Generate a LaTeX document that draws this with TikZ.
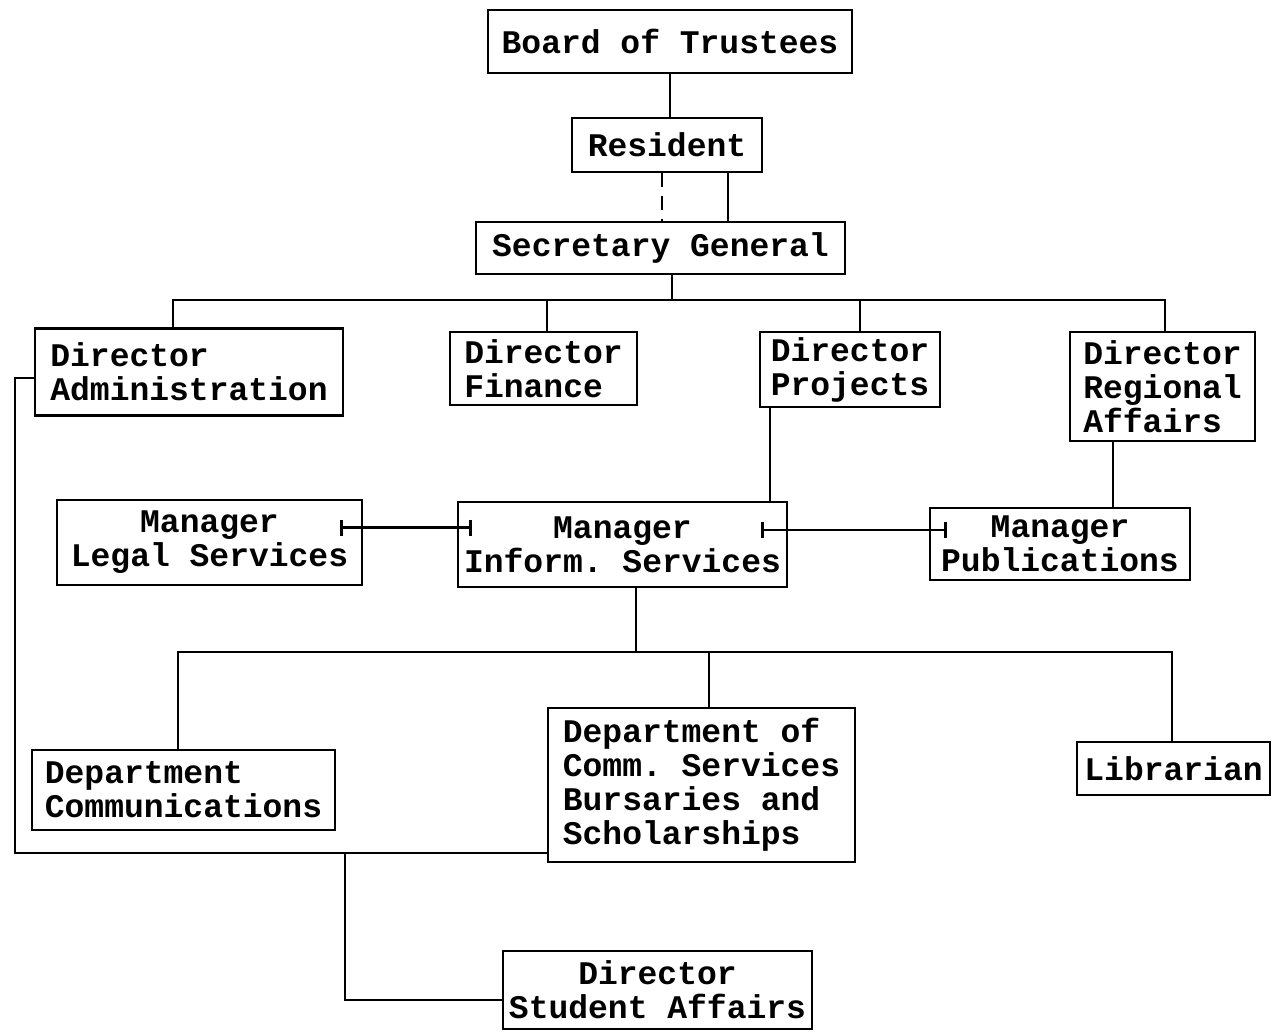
\documentclass[tikz,border=0pt]{standalone}
\usepackage{fontspec}
\setmonofont{Liberation Mono}
\usetikzlibrary{arrows.meta}

\begin{document}
\begin{tikzpicture}
    [
      x=1pt, y=-1pt,
      line width=2.8pt,
      box/.style={draw, inner sep=0pt, align=left,
        font=\ttfamily\bfseries\fontsize{33}{34}\selectfont},
      mid/.style={box, align=center},
      link/.style={{Bar[width=16pt]}-{Bar[width=16pt]}}
    ]
    \useasboundingbox (0,0) rectangle (1276,1033);
    \node [mid, minimum width=364pt, minimum height=63pt] (board) at (670,41.5) {Board of Trustees};
    \node [mid, minimum width=190pt, minimum height=54pt] (resident) at (667,145) {Resident};
    \node [mid, minimum width=369pt, minimum height=52pt] (secgen) at (660.5,248) {Secretary General};
    % directors
    \node [box, minimum width=308pt, minimum height=87pt] (diradmin) at (189,372) {Director\\Administration};
    \node [box, minimum width=187pt, minimum height=73pt] (dirfin) at (543.5,368.5) {Director\\Finance};
    \node [box, minimum width=180pt, minimum height=75pt] (dirproj) at (850,369.5) {Director\\Projects};
    \node [box, minimum width=185pt, minimum height=109pt] (dirreg) at (1162.5,386.5) {Director\\Regional\\Affairs};
    % managers
    \node [mid, minimum width=305pt, minimum height=85pt] (mlegal) at (209.5,542.5) {Manager\\Legal Services};
    \node [mid, minimum width=329pt, minimum height=85pt] (minform) at (622.5,544.5) {Manager\\Inform. Services};
    \node [mid, minimum width=260pt, minimum height=72pt] (mpub) at (1060,544) {Manager\\Publications};
    % departments
    \node [box, minimum width=303pt, minimum height=80pt] (dcomm) at (183.5,790) {Department\\Communications};
    \node [box, minimum width=307pt, minimum height=154pt] (dcommserv) at (701.5,785) {Department of\\Comm. Services\\Bursaries and\\Scholarships};
    \node [box, minimum width=193pt, minimum height=53pt] (librarian) at (1173.5,768.5) {Librarian};
    \node [mid, minimum width=309pt, minimum height=78pt] (dirstudent) at (657.5,990) {Director\\Student Affairs};

    \draw (board.south) -- (board.south |- resident.north);
    \draw [dash pattern=on 14pt off 9pt] ([xshift=-5pt]resident.south) -- ([xshift=-5pt]resident.south |- secgen.north);
    \draw ([xshift=61pt]resident.south) -- ([xshift=61pt]resident.south |- secgen.north);

    \coordinate (bus1) at (672,300);
    \draw ([xshift=11.5pt]secgen.south) -- (bus1);
    \draw ([xshift=-16pt]diradmin.north) |- (bus1) -| ([xshift=2.5pt]dirreg.north);
    \draw ([xshift=3.5pt]dirfin.north) -- ([xshift=3.5pt]dirfin.north |- bus1);
    \draw ([xshift=10pt]dirproj.north) -- ([xshift=10pt]dirproj.north |- bus1);

    \draw ([xshift=-80pt]dirproj.south) -- ([xshift=-80pt]dirproj.south |- minform.north);
    \draw ([xshift=-49.5pt]dirreg.south) -- ([xshift=-49.5pt]dirreg.south |- mpub.north);
    \draw [link] ([xshift=-23pt,yshift=15pt]mlegal.east) -- ([xshift=15pt,yshift=17pt]minform.west);
    \draw [link] ([xshift=-27pt,yshift=14.5pt]minform.east) -- ([xshift=18pt,yshift=14pt]mpub.west);

    \coordinate (bus2) at (636,652);
    \draw ([xshift=13.5pt]minform.south) -- (bus2);
    \draw ([xshift=-5.5pt]dcomm.north) |- (bus2) -| ([xshift=-1.5pt]librarian.north);
    \draw ([xshift=7.5pt]dcommserv.north) -- ([xshift=7.5pt]dcommserv.north |- bus2);

    \coordinate (loopturn) at (15,853);
    \coordinate (sabranch) at (345,853);
    \draw ([yshift=-6pt]diradmin.west) -| (loopturn) -- (loopturn -| dcommserv.west);
    \draw (sabranch) |- ([yshift=-10pt]dirstudent.west);
\end{tikzpicture}
\end{document}
